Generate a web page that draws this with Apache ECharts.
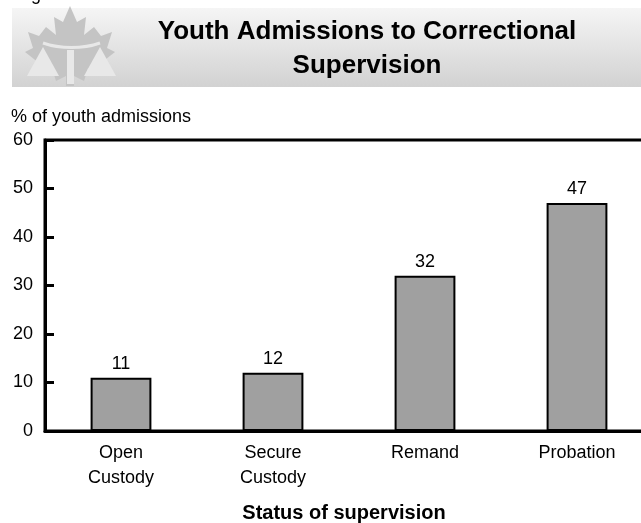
<!DOCTYPE html>
<html>
<head>
<meta charset="utf-8">
<script src="https://cdn.jsdelivr.net/npm/echarts@6/dist/echarts.min.js"></script>
<style>
  html, body { margin: 0; padding: 0; background: #fff; }
  #chart { width: 641px; height: 523px; }
</style>
</head>
<body>
<div id="chart"></div>
<script>
// data
const categories = ['Open\nCustody', 'Secure\nCustody', 'Remand', 'Probation']
const admissionShare = [11, 12, 32, 47]
const yTicks = { min: 0, max: 60, interval: 10 }

const FONT = '"Liberation Sans", Arial, sans-serif'

const chart = echarts.init(document.getElementById('chart'), null, { renderer: 'canvas' })

// rough maple leaf outline for the header emblem (decoration only)
const leaf = [[70,6],[77,22],[86,17],[84,35],[94,27],[101,36],[112,32],[107,48],[115,52],[101,63],
  [104,71],[88,68],[84,81],[74,76],[74,86],[66,86],[66,76],[56,81],[52,68],[36,71],[39,63],
  [25,52],[33,48],[28,32],[39,36],[46,27],[56,35],[54,17],[63,22]]

chart.setOption({
  animation: false,
  textStyle: { fontFamily: FONT },
  graphic: [
    {
      type: 'text', x: 16, y: -14,
      style: { text: 'Figure', font: '18px ' + FONT, fill: '#000' }
    },
    {
      type: 'rect', shape: { x: 12, y: 8, width: 629, height: 79 },
      style: {
        fill: new echarts.graphic.LinearGradient(0, 0, 0, 1, [
          { offset: 0, color: '#f5f5f5' },
          { offset: 1, color: '#d2d2d2' }
        ])
      }
    },
    { type: 'polygon', shape: { points: leaf }, style: { fill: '#c4c4c4' } },
    { type: 'polygon', shape: { points: [[27,76],[43,47],[59,76]] }, style: { fill: '#e8e8e8' } },
    { type: 'polygon', shape: { points: [[84,76],[100,47],[116,76]] }, style: { fill: '#e8e8e8' } },
    { type: 'rect', shape: { x: 67, y: 50, width: 7, height: 34 }, style: { fill: '#e8e8e8' } },
    {
      type: 'bezierCurve',
      shape: { x1: 43, y1: 43, x2: 100, y2: 43, cpx1: 60, cpy1: 49, cpx2: 83, cpy2: 49 },
      style: { stroke: '#e8e8e8', lineWidth: 3, fill: null }
    },
    {
      type: 'text', x: 367, y: 15,
      style: {
        text: 'Youth Admissions to Correctional\nSupervision',
        font: 'bold 26px ' + FONT, fill: '#000', align: 'center', verticalAlign: 'top', lineHeight: 34
      }
    }
  ],
  grid: {
    left: 45, top: 140, width: 608, height: 291,
    outerBoundsMode: 'none',
    show: true, borderColor: '#000', borderWidth: 3, backgroundColor: 'transparent'
  },
  xAxis: {
    type: 'category',
    data: categories,
    name: 'Status of supervision',
    nameLocation: 'middle',
    nameGap: 72,
    nameTextStyle: { fontFamily: FONT, fontSize: 20, fontWeight: 'bold', color: '#000', padding: [0, 10, 0, 0] },
    axisLine: { show: true, lineStyle: { color: '#000', width: 3 } },
    axisTick: { show: false },
    axisLabel: { color: '#000', fontSize: 18, fontFamily: FONT, margin: 10, lineHeight: 25 }
  },
  yAxis: {
    type: 'value',
    min: yTicks.min, max: yTicks.max, interval: yTicks.interval,
    name: '% of youth admissions',
    nameLocation: 'end',
    nameGap: 14,
    nameTextStyle: { fontFamily: FONT, fontSize: 18, color: '#000', align: 'left', padding: [0, 0, 0, -34] },
    axisLine: { show: true, lineStyle: { color: '#000', width: 3 } },
    axisTick: { show: true, inside: true, length: 9, lineStyle: { color: '#000', width: 3 } },
    splitLine: { show: false },
    axisLabel: { color: '#000', fontSize: 18, fontFamily: FONT, margin: 12 }
  },
  series: [{
    type: 'bar',
    data: admissionShare,
    barWidth: '40%',
    itemStyle: { color: '#a0a0a0', borderColor: '#000', borderWidth: 2 },
    label: { show: true, position: 'top', distance: 5, color: '#000', fontSize: 18, fontFamily: FONT }
  }]
})
</script>
</body>
</html>
